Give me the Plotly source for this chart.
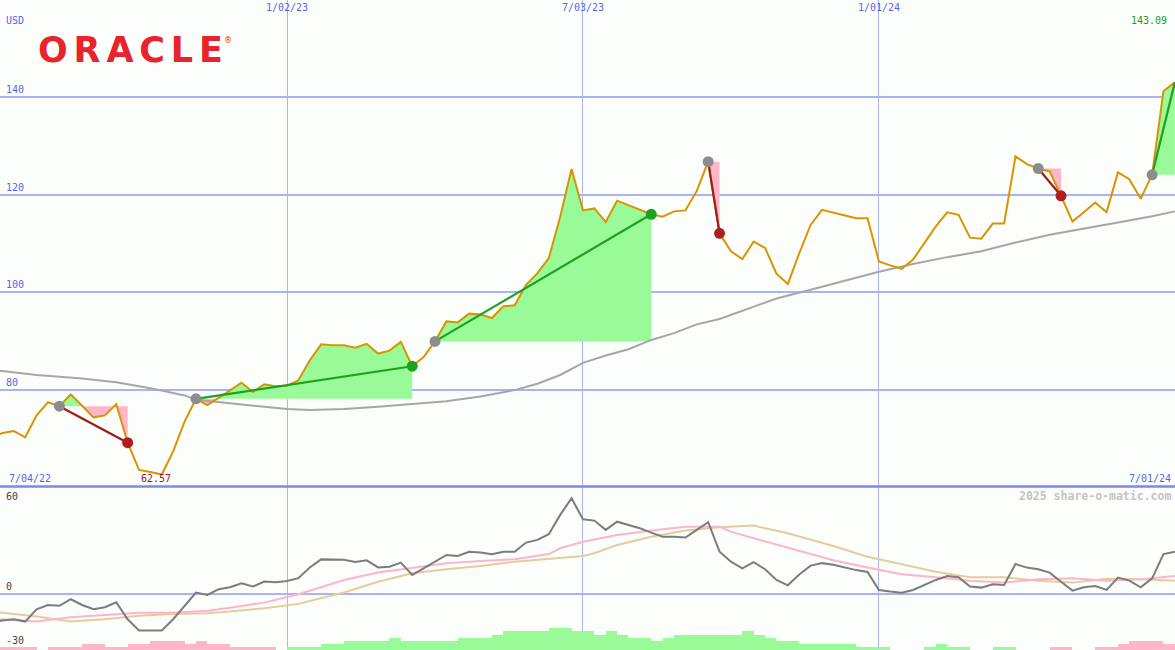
import pandas as pd
import plotly.graph_objects as go

# ---------------- data ----------------
start_week = "2022-07-04"
n_weeks = 105
dates = list(pd.date_range(start_week, periods=n_weeks, freq="7D"))

price = [70.0, 71.1, 71.5, 70.2, 74.7, 77.4, 76.6, 79.0, 76.7, 74.3,
         74.7, 77.0, 69.1, 63.5, 63.1, 62.57, 67.3, 73.4, 78.1, 76.8,
         78.3, 79.9, 81.4, 79.5, 81.1, 80.7, 80.8, 81.9, 86.0, 89.3,
         89.1, 89.1, 88.6, 89.4, 87.4, 88.0, 89.8, 84.8, 86.7, 89.9,
         94.0, 93.8, 95.6, 95.4, 94.7, 97.1, 97.3, 101.5, 103.9, 107.0,
         115.5, 125.3, 116.8, 117.2, 114.4, 118.8, 117.9, 116.9, 116.0, 115.5,
         116.6, 116.8, 120.8, 126.8, 112.1, 108.4, 106.8, 110.4, 109.1, 103.8,
         101.7, 108.0, 113.8, 116.9, 116.3, 115.7, 115.2, 115.2, 106.3, 105.5,
         104.8, 106.7, 110.1, 113.5, 116.4, 115.9, 111.2, 111.0, 114.1, 114.1,
         127.9, 126.3, 125.4, 124.8, 119.8, 114.5, 116.4, 118.4, 116.4, 124.6,
         123.2, 119.2, 124.1, 141.3, 143.09]

ma_weeks = [0, 1, 4, 8, 11, 14, 17, 18, 21, 24, 26, 28, 31, 34, 37, 40, 43, 46, 48, 50,
            52, 54, 56, 58, 60, 62, 64, 66, 69, 72, 75, 78, 81, 84, 87, 90, 93, 96,
            99, 102, 104]
ma_vals = [83.9, 83.8, 83.0, 82.3, 81.5, 80.3, 78.8, 77.9, 77.2, 76.4, 76.0, 75.8, 76.0,
           76.5, 77.0, 77.6, 78.6, 79.9, 81.2, 83.0, 85.5, 87.0, 88.3, 90.2, 91.6, 93.4,
           94.5, 96.2, 98.7, 100.5, 102.4, 104.2, 105.8, 107.2, 108.4, 110.2, 111.8,
           113.0, 114.3, 115.6, 116.6]

osc = [-16.0, -14.7, -14.0, -15.3, -8.4, -6.0, -6.5, -2.8, -6.0, -8.4,
       -7.3, -4.5, -14.0, -20.3, -20.3, -20.3, -14.0, -6.5, 0.9, -0.4,
       2.8, 3.9, 6.1, 4.3, 7.1, 6.7, 7.4, 9.0, 15.0, 19.5,
       19.5, 19.3, 18.0, 19.0, 15.0, 15.4, 17.7, 10.8, 14.5, 18.2,
       22.0, 21.4, 23.8, 23.3, 22.4, 23.8, 23.8, 28.9, 30.4, 33.6,
       44.4, 53.7, 41.9, 41.2, 36.0, 40.6, 38.8, 36.9, 34.5, 32.2,
       32.2, 31.7, 36.0, 40.3, 23.8, 18.2, 14.5, 17.9, 14.0, 8.0,
       5.0, 11.0, 16.0, 17.4, 16.5, 15.0, 13.5, 12.5, 2.4, 1.5,
       0.9, 2.4, 5.3, 8.0, 10.2, 9.5, 4.3, 3.7, 5.6, 5.2,
       16.9, 14.9, 14.0, 12.1, 7.0, 2.0, 3.9, 4.6, 2.4, 9.3,
       7.6, 3.9, 8.9, 22.5, 23.8]

pink_weeks = [0, 1, 4, 7, 10, 13, 16, 19, 21, 24, 27, 29, 31, 34, 37, 40, 43, 46, 49, 50,
              52, 55, 58, 61, 64, 65, 67, 70, 74, 77, 80, 83, 86, 89, 92, 95, 98, 101, 104]
pink_vals = [-13.8, -14.0, -15.3, -12.9, -11.6, -10.3, -10.3, -9.2, -7.5, -4.7, 0.0, 4.0,
             8.0, 12.1, 14.5, 17.3, 18.6, 19.6, 22.5, 25.7, 29.4, 33.2, 35.6, 37.8, 37.8,
             35.0, 31.3, 26.1, 19.0, 15.0, 11.2, 9.5, 7.6, 6.5, 8.4, 8.9, 7.6, 8.4, 10.2]

tan_weeks = [0, 1, 4, 7, 10, 13, 16, 19, 21, 24, 27, 29, 31, 34, 37, 40, 43, 46, 49, 52,
             53, 55, 58, 61, 64, 67, 68, 70, 74, 77, 80, 83, 86, 89, 92, 95, 98, 101, 104]
tan_vals = [-9.8, -10.3, -12.5, -15.3, -14.0, -12.1, -11.0, -10.6, -9.7, -7.8, -5.4, -2.0,
            1.0, 7.0, 11.7, 14.0, 15.8, 18.2, 19.6, 21.4, 22.9, 27.6, 32.2, 35.6, 37.5,
            38.4, 36.9, 34.1, 27.0, 21.0, 16.8, 12.6, 9.5, 9.5, 7.6, 6.5, 8.6, 8.4, 7.6]

bars = [-1.7, -1.7, -1.7, -1.7, 0, -1.7, -1.7, -1.7, -3.4, -3.4,
        -1.7, -1.7, -3.4, -3.4, -5.0, -5.0, -5.0, -3.4, -5.0, -3.4,
        -3.4, -1.7, -1.7, -1.7, -1.7, 0, 1.7, 1.7, 1.7, 3.4,
        3.4, 5.0, 5.0, 5.0, 5.0, 6.7, 5.0, 5.0, 5.0, 5.0,
        5.0, 6.7, 6.7, 6.7, 8.4, 10.6, 10.6, 10.6, 10.6, 12.3,
        12.3, 10.6, 10.6, 8.4, 10.6, 8.4, 6.7, 6.7, 5.0, 6.7,
        8.4, 8.4, 8.4, 8.4, 8.4, 8.4, 10.6, 8.4, 6.7, 5.0,
        5.0, 3.4, 3.4, 3.4, 3.4, 3.4, 1.7, 1.7, 1.7, 0,
        0, 0, 1.7, 3.4, 1.7, 1.7, 0, 0, 1.7, 1.7,
        0, 0, 0, -1.7, -1.7, 0, 0, -1.7, -1.7, -3.4,
        -5.0, -5.0, -5.0, -3.4, -3.4]

trade_entries = [6, 18, 39, 63, 92, 102]
trade_exits = [12, 37, 58, 64, 94, None]   # None = still open

grid_dates = ["2023-01-02", "2023-07-03", "2024-01-01"]
grid_labels = ["1/02/23", "7/03/23", "1/01/24"]
edge_labels = ["7/04/22", "7/01/24"]
price_ticks = [80, 100, 120, 140]
price_tick_labels = ["80", "100", "120", "140"]
osc_ticks = [60, 0, -30]
osc_tick_labels = ["60", "0", "-30"]
currency = "USD"
company = "ORACLE"
credit = "2025 share-o-matic.com"

# ---------------- styles ----------------
BG = "#fcfefc"
GRID = "#a8b4f4"
BORDER = "#7b88ec"
BLUE_TXT = "#5566ee"
PRICE_C = "#d99400"
MA_C = "#a6a6a6"
GREEN_FILL = "#98fb98"
PINK_FILL = "#ffb6c8"
GREEN_LINE = "#20a020"
RED_LINE = "#a01c1c"
GREY_DOT = "#8c8c8c"
OSC_C = "#7c7c7c"
OSC_PINK = "#ffb4cc"
OSC_TAN = "#e4cc9c"
MONO = "DejaVu Sans Mono"
W, H = 1175, 650
SPLIT = 487  # pixel row of the panel border

def px(x):
    return x / W

def py(y):
    return 1 - y / H

fig = go.Figure()

# ---------------- trade fills ----------------
last = n_weeks - 1
for e, x in zip(trade_entries, trade_exits):
    end = last if x is None else x
    lvl = price[e]
    pts = []
    for k in range(e, end + 1):
        pts.append((dates[k], price[k]))
        if k < end:
            a, b = price[k] - lvl, price[k + 1] - lvl
            if a * b < 0:
                f = a / (a - b)
                pts.append((dates[k] + (dates[k + 1] - dates[k]) * f, lvl))
    closing = [(dates[end], lvl), (dates[e], lvl)]
    for col, fn in ((GREEN_FILL, max), (PINK_FILL, min)):
        poly = [(d, fn(v, lvl)) for d, v in pts] + closing
        fig.add_trace(go.Scatter(
            x=[p[0] for p in poly], y=[p[1] for p in poly],
            fill="toself", fillcolor=col, mode="lines", line=dict(width=0),
            hoverinfo="skip", showlegend=False, xaxis="x", yaxis="y"))

# ---------------- moving average & price ----------------
fig.add_trace(go.Scatter(x=[dates[i] for i in ma_weeks], y=ma_vals, mode="lines",
                         line=dict(color=MA_C, width=2), showlegend=False,
                         xaxis="x", yaxis="y"))
fig.add_trace(go.Scatter(x=dates, y=price, mode="lines",
                         line=dict(color=PRICE_C, width=2), showlegend=False,
                         xaxis="x", yaxis="y"))

# ---------------- trade lines & markers ----------------
for e, x in zip(trade_entries, trade_exits):
    end = last if x is None else x
    win = price[end] >= price[e]
    fig.add_trace(go.Scatter(x=[dates[e], dates[end]], y=[price[e], price[end]],
                             mode="lines",
                             line=dict(color=GREEN_LINE if win else RED_LINE, width=2.2),
                             showlegend=False, xaxis="x", yaxis="y"))
for e, x in zip(trade_entries, trade_exits):
    fig.add_trace(go.Scatter(x=[dates[e]], y=[price[e]], mode="markers",
                             marker=dict(color=GREY_DOT, size=11, line=dict(width=0)),
                             showlegend=False, xaxis="x", yaxis="y"))
    if x is not None:
        win = price[x] >= price[e]
        fig.add_trace(go.Scatter(x=[dates[x]], y=[price[x]], mode="markers",
                                 marker=dict(color=GREEN_LINE if win else "#b01e1e",
                                             size=11, line=dict(width=0)),
                                 showlegend=False, xaxis="x", yaxis="y"))

# ---------------- lower panel ----------------
LOW_BOTTOM = -31.2
bx = [d for d, b in zip(dates, bars) if b != 0]
bh = [abs(b) for b in bars if b != 0]
bc = [GREEN_FILL if b > 0 else PINK_FILL for b in bars if b != 0]
fig.add_trace(go.Bar(x=bx, y=bh, base=LOW_BOTTOM, offset=0, width=7 * 86400000,
                     marker=dict(color=bc, line=dict(width=0)), showlegend=False,
                     xaxis="x2", yaxis="y2"))
fig.add_trace(go.Scatter(x=[dates[i] for i in tan_weeks], y=tan_vals, mode="lines",
                         line=dict(color=OSC_TAN, width=2), showlegend=False,
                         xaxis="x2", yaxis="y2"))
fig.add_trace(go.Scatter(x=[dates[i] for i in pink_weeks], y=pink_vals, mode="lines",
                         line=dict(color=OSC_PINK, width=2), showlegend=False,
                         xaxis="x2", yaxis="y2"))
fig.add_trace(go.Scatter(x=dates, y=osc, mode="lines",
                         line=dict(color=OSC_C, width=2), showlegend=False,
                         xaxis="x2", yaxis="y2"))

# ---------------- layout ----------------
x_range = ["2022-07-09 12:00", "2024-07-01 02:00"]
split = (H - SPLIT) / H
xcommon = dict(type="date", range=x_range, tickvals=grid_dates, showticklabels=False,
               showgrid=True, gridcolor=GRID, gridwidth=1, zeroline=False, showline=False,
               ticks="")
fig.update_layout(
    width=W, height=H, margin=dict(l=0, r=0, t=0, b=0),
    paper_bgcolor=BG, plot_bgcolor=BG, showlegend=False,
    xaxis=dict(domain=[0, 1], anchor="y", **xcommon),
    xaxis2=dict(domain=[0, 1], anchor="y2", matches="x", **xcommon),
    yaxis=dict(domain=[split, 1], range=[60, 160], tickvals=price_ticks,
               showticklabels=False, showgrid=True, gridcolor=GRID, gridwidth=2,
               zeroline=False, showline=False, ticks=""),
    yaxis2=dict(domain=[0, split], range=[LOW_BOTTOM, 60], tickvals=[0],
                showticklabels=False, showgrid=True, gridcolor=GRID, gridwidth=2,
                zeroline=False, showline=False, ticks=""),
    bargap=0,
)

fig.add_shape(type="line", xref="paper", yref="paper", x0=0, x1=1,
              y0=py(SPLIT - 0.5), y1=py(SPLIT - 0.5), line=dict(color=BORDER, width=2.5))

ann = []
f_blue = dict(family=MONO, size=10, color=BLUE_TXT)
ann.append(dict(text=currency, xref="paper", yref="paper", x=px(4), y=py(21),
                xanchor="left", yanchor="middle", font=f_blue))
for v, t in zip(price_ticks, price_tick_labels):
    ann.append(dict(text=t, xref="paper", yref="y", x=px(4), y=v,
                    xanchor="left", yanchor="bottom", font=f_blue))
for d, t in zip(grid_dates, grid_labels):
    ann.append(dict(text=t, xref="x", yref="paper", x=d, y=1,
                    xanchor="center", yanchor="top", font=f_blue))
ann.append(dict(text=edge_labels[0], xref="paper", yref="paper", x=px(7), y=py(478),
                xanchor="left", yanchor="middle", font=f_blue))
ann.append(dict(text=edge_labels[1], xref="paper", yref="paper", x=px(1173), y=py(478),
                xanchor="right", yanchor="middle", font=f_blue))
imin = price.index(min(price))
ann.append(dict(text=f"{min(price):.2f}", xref="x", yref="paper", x=dates[imin],
                y=py(478), xanchor="center", yanchor="middle", xshift=-6,
                font=dict(family=MONO, size=10, color="#a01818")))
ann.append(dict(text=f"{max(price):.2f}", xref="paper", yref="paper", x=px(1169),
                y=py(21), xanchor="right", yanchor="middle",
                font=dict(family=MONO, size=10, color="#1f9a1f")))
f_dark = dict(family=MONO, size=10, color="#444444")
for v, t in zip(osc_ticks, osc_tick_labels):
    ann.append(dict(text=t, xref="paper", yref="y2", x=px(4), y=v,
                    xanchor="left", yanchor="top" if v == osc_ticks[0] else "bottom",
                    yshift=-2 if v == osc_ticks[0] else 0, font=f_dark))
ann.append(dict(text=credit, xref="paper", yref="paper", x=px(1173), y=py(496),
                xanchor="right", yanchor="middle",
                font=dict(family=MONO, size=11.5, color="#c4c4c4", weight="bold")))
ann.append(dict(text="\u2006".join(company), xref="paper", yref="paper", x=px(36),
                y=py(50), xanchor="left", yanchor="middle",
                font=dict(family="DejaVu Sans", size=35, color="#e8232b", weight="bold")))
ann.append(dict(text="\u00ae", xref="paper", yref="paper", x=px(228), y=py(41),
                xanchor="center", yanchor="middle",
                font=dict(family="DejaVu Sans", size=8, color="#e8232b")))
for a in ann:
    a["showarrow"] = False
fig.update_layout(annotations=ann)

fig.write_html("out.html", config={"displayModeBar": False},
               post_script="document.body.style.margin='0';")
